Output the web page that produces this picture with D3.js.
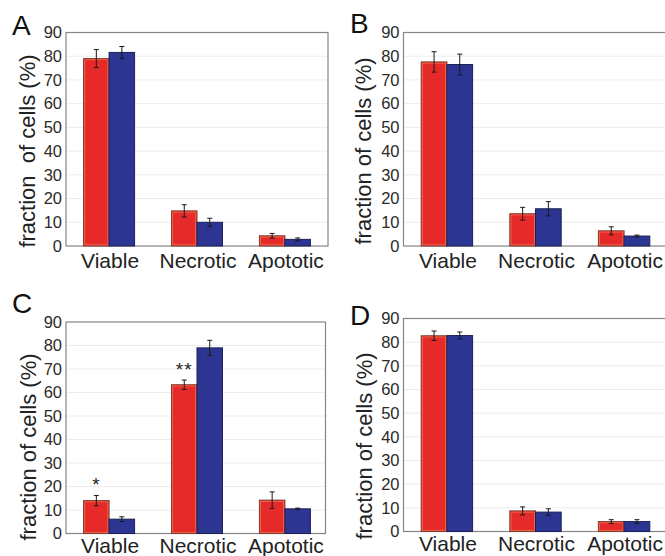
<!DOCTYPE html>
<html>
<head>
<meta charset="utf-8">
<script src="https://cdn.jsdelivr.net/npm/d3@7"></script>
<style>
  body { margin: 0; background: #fff; }
  text { font-family: "Liberation Sans", Arial, Helvetica, sans-serif; }
</style>
</head>
<body>
<script>
var W = 665;
var H = 556;

// categories and ticks
var categories = ["Viable", "Necrotic", "Apototic"];
var yTicks = [0, 10, 20, 30, 40, 50, 60, 70, 80, 90];

// panel A
var aRed = [79, 14.8, 4.3];
var aRedErr = [3.8, 2.6, 1.0];
var aBlue = [81.6, 10, 2.8];
var aBlueErr = [2.5, 1.7, 0.6];

// panel B
var bRed = [77.6, 13.6, 6.4];
var bRedErr = [4.3, 2.7, 1.7];
var bBlue = [76.5, 15.7, 4.2];
var bBlueErr = [4.4, 3.0, 0.4];

// panel C
var cRed = [14, 63.3, 14.2];
var cRedErr = [2.2, 2.0, 3.5];
var cBlue = [6.1, 79, 10.5];
var cBlueErr = [1.0, 3.2, 0.3];
var cStars = ["*", "**", ""];

// panel D
var dRed = [82.7, 8.7, 4.2];
var dRedErr = [2.0, 1.7, 0.8];
var dBlue = [82.8, 8.2, 4.2];
var dBlueErr = [1.5, 1.4, 0.8];

// layout of the four panels
var panels = [
  { letter: "A", left: 66, top: 32.5, bottom: 246, frameW: 262, bandW: 262,
    letterX: 12, letterY: 35, titleX: 35, titleY: 151, labelY: 268,
    title: "fraction  of cells (%)",
    red: aRed, redErr: aRedErr, blue: aBlue, blueErr: aBlueErr, stars: null },
  { letter: "B", left: 403.5, top: 32.5, bottom: 246, frameW: 264, bandW: 264,
    letterX: 350, letterY: 33, titleX: 371, titleY: 151, labelY: 268,
    title: "fraction of cells (%)",
    red: bRed, redErr: bRedErr, blue: bBlue, blueErr: bBlueErr, stars: null },
  { letter: "C", left: 66, top: 322, bottom: 533.5, frameW: 259.5, bandW: 262,
    letterX: 12, letterY: 313, titleX: 35.5, titleY: 447, labelY: 553,
    title: "fraction of cells (%)",
    red: cRed, redErr: cRedErr, blue: cBlue, blueErr: cBlueErr, stars: cStars },
  { letter: "D", left: 403.5, top: 318.5, bottom: 531.5, frameW: 264, bandW: 264,
    letterX: 350, letterY: 325, titleX: 371.5, titleY: 446, labelY: 551,
    title: "fraction of cells (%)",
    red: dRed, redErr: dRedErr, blue: dBlue, blueErr: dBlueErr, stars: null }
];

var redFill = "#e52a29";
var redStroke = "#7e3b30";
var blueFill = "#2c3592";
var blueStroke = "#1c2258";

var svg = d3.select("body")
  .append("svg")
  .attr("width", W)
  .attr("height", H);

panels.forEach(function(p) {
  var g = svg.append("g");
  var h = p.bottom - p.top;

  var xScale = d3.scaleBand()
    .domain(categories)
    .range([p.left, p.left + p.bandW])
    .paddingInner(0.42)
    .paddingOuter(0.2);

  var xSub = d3.scaleBand()
    .domain(["red", "blue"])
    .range([0, xScale.bandwidth()]);

  var yScale = d3.scaleLinear()
    .domain([0, 90])
    .range([p.bottom, p.top]);

  // grid lines
  g.selectAll(".grid")
    .data(yTicks.slice(1, -1))
    .enter()
    .append("line")
    .attr("x1", p.left)
    .attr("x2", p.left + p.frameW)
    .attr("y1", function(d) { return yScale(d); })
    .attr("y2", function(d) { return yScale(d); })
    .attr("stroke", "#ececec")
    .attr("stroke-width", 1);

  // y axis tick labels
  var yAxis = d3.axisLeft(yScale)
    .tickValues(yTicks)
    .tickSize(0)
    .tickPadding(4);
  var ax = g.append("g")
    .attr("transform", "translate(" + p.left + ",0)")
    .call(yAxis);
  ax.select(".domain").remove();
  ax.selectAll("text")
    .attr("font-size", "16.5px")
    .attr("fill", "#2a2a2a")
    .style("font-family", "'Liberation Sans', Arial, sans-serif");

  // frame
  g.append("rect")
    .attr("x", p.left)
    .attr("y", p.top)
    .attr("width", p.frameW)
    .attr("height", h)
    .attr("fill", "none")
    .attr("stroke", "#858585")
    .attr("stroke-width", 1.2);

  var series = [
    { key: "red", vals: p.red, errs: p.redErr, fill: redFill, stroke: redStroke },
    { key: "blue", vals: p.blue, errs: p.blueErr, fill: blueFill, stroke: blueStroke }
  ];

  series.forEach(function(s) {
    var rows = categories.map(function(c, i) {
      return { cat: c, v: s.vals[i], e: s.errs[i] };
    });

    g.selectAll(".bar-" + s.key)
      .data(rows)
      .enter()
      .append("rect")
      .attr("x", function(d) { return xScale(d.cat) + xSub(s.key); })
      .attr("y", function(d) { return yScale(d.v); })
      .attr("width", xSub.bandwidth())
      .attr("height", function(d) { return yScale(0) - yScale(d.v); })
      .attr("fill", s.fill)
      .attr("stroke", s.stroke)
      .attr("stroke-width", 1);

    if (s.key === "red") {
      // light inner edge on the red bars
      g.selectAll(".hi-" + s.key)
        .data(rows)
        .enter()
        .append("rect")
        .attr("x", function(d) { return xScale(d.cat) + xSub(s.key) + 1.2; })
        .attr("y", function(d) { return yScale(d.v) + 1.2; })
        .attr("width", xSub.bandwidth() - 2.4)
        .attr("height", function(d) { return Math.max(0, yScale(0) - yScale(d.v) - 2.4); })
        .attr("fill", "none")
        .attr("stroke", "#f6905e")
        .attr("stroke-width", 0.7)
        .attr("opacity", 0.8);
    }

    // error bars
    var eb = g.selectAll(".err-" + s.key)
      .data(rows)
      .enter()
      .append("g")
      .attr("stroke", "#1a1a1a")
      .attr("stroke-width", 1);
    var cx = function(d) { return xScale(d.cat) + xSub(s.key) + xSub.bandwidth() / 2; };
    eb.append("line")
      .attr("x1", cx).attr("x2", cx)
      .attr("y1", function(d) { return yScale(d.v + d.e); })
      .attr("y2", function(d) { return yScale(d.v - d.e); });
    eb.append("line")
      .attr("x1", function(d) { return cx(d) - 2.5; })
      .attr("x2", function(d) { return cx(d) + 2.5; })
      .attr("y1", function(d) { return yScale(d.v + d.e); })
      .attr("y2", function(d) { return yScale(d.v + d.e); });
    eb.append("line")
      .attr("x1", function(d) { return cx(d) - 2.5; })
      .attr("x2", function(d) { return cx(d) + 2.5; })
      .attr("y1", function(d) { return yScale(d.v - d.e); })
      .attr("y2", function(d) { return yScale(d.v - d.e); });
  });

  // significance stars over the red bars
  if (p.stars) {
    g.selectAll(".star")
      .data(categories.map(function(c, i) {
        return { cat: c, v: p.red[i] + p.redErr[i], s: p.stars[i] };
      }))
      .enter()
      .append("text")
      .attr("x", function(d) { return xScale(d.cat) + xSub("red") + xSub.bandwidth() / 2; })
      .attr("y", function(d) { return yScale(d.v) - 4; })
      .attr("text-anchor", "middle")
      .attr("font-size", "19px")
      .attr("letter-spacing", "1px")
      .attr("fill", "#222")
      .text(function(d) { return d.s; });
  }

  // category labels
  g.selectAll(".cat")
    .data(categories)
    .enter()
    .append("text")
    .attr("x", function(d) { return xScale(d) + xScale.bandwidth() / 2 + 1; })
    .attr("y", p.labelY)
    .attr("text-anchor", "middle")
    .attr("font-size", "21px")
    .attr("fill", "#222")
    .text(function(d) { return d; });

  // y title
  g.append("text")
    .attr("transform", "translate(" + p.titleX + "," + p.titleY + ") rotate(-90)")
    .attr("text-anchor", "middle")
    .attr("font-size", "22px")
    .attr("fill", "#222")
    .style("white-space", "pre")
    .text(p.title);

  // panel letter
  g.append("text")
    .attr("x", p.letterX)
    .attr("y", p.letterY)
    .attr("font-size", "28px")
    .attr("fill", "#111")
    .text(p.letter);
});
</script>
</body>
</html>
